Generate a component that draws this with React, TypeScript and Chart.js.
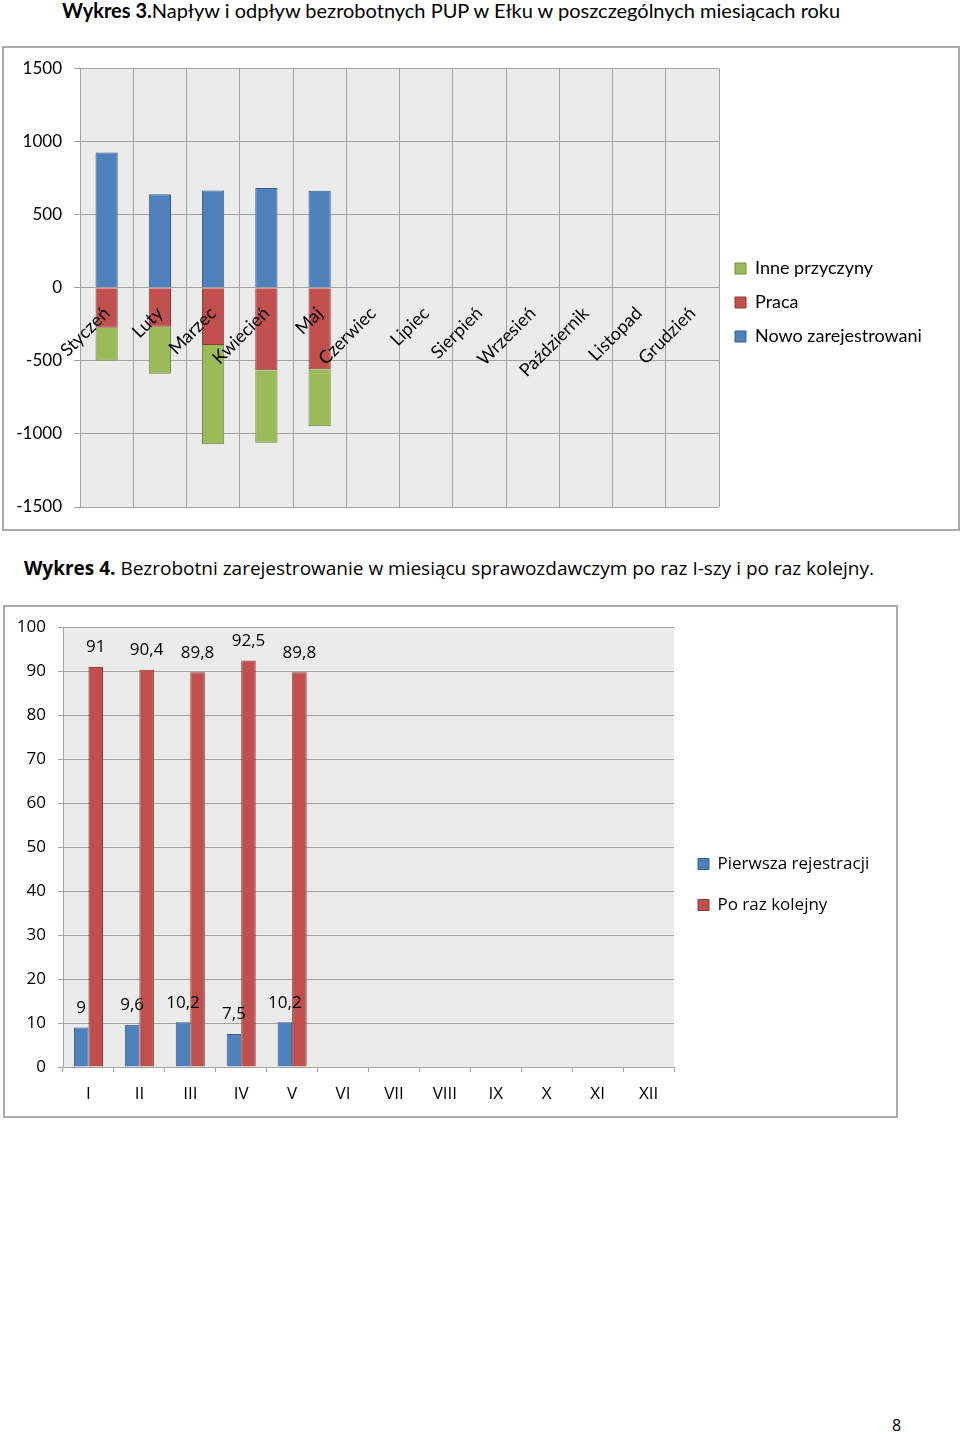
import React, { useEffect, useRef } from "react";
import { Chart, registerables } from "chart.js";

Chart.register(...registerables);

// ---------- Data: Wykres 3 ----------
const months = [
  "Styczeń", "Luty", "Marzec", "Kwiecień", "Maj", "Czerwiec",
  "Lipiec", "Sierpień", "Wrzesień", "Październik", "Listopad", "Grudzień",
];
const nowoZarejestrowani = [925, 639, 666, 682, 664, null, null, null, null, null, null, null];
const praca = [-273, -266, -391, -564, -557, null, null, null, null, null, null, null];
const innePrzyczyny = [-225, -323, -679, -497, -391, null, null, null, null, null, null, null];
const flowTicks = [-1500, -1000, -500, 0, 500, 1000, 1500];

// ---------- Data: Wykres 4 ----------
const romanMonths = ["I", "II", "III", "IV", "V", "VI", "VII", "VIII", "IX", "X", "XI", "XII"];
const pierwszaRejestracja = [9, 9.6, 10.2, 7.5, 10.2, null, null, null, null, null, null, null];
const poRazKolejny = [91, 90.4, 89.8, 92.5, 89.8, null, null, null, null, null, null, null];
const shareTicks = [0, 10, 20, 30, 40, 50, 60, 70, 80, 90, 100];

// ---------- Styles ----------
const BLUE = "#4f81bd";
const BLUE_D = "#385d8a";
const RED = "#c0504d";
const RED_D = "#8c3836";
const GREEN = "#9bbb59";
const GREEN_D = "#71893f";
const GRID = "#a3a3a3";
const PLOT_BG = "#ebebeb";
const FONT1 = "Lato, sans-serif";
const FONT2 = "'Open Sans', sans-serif";

const plotBg = {
  id: "plotBg",
  beforeDraw(chart: any) {
    const { ctx, chartArea } = chart;
    if (!chartArea) return;
    ctx.save();
    ctx.fillStyle = PLOT_BG;
    ctx.fillRect(chartArea.left, chartArea.top, chartArea.right - chartArea.left, chartArea.bottom - chartArea.top);
    ctx.restore();
  },
};

const valueLabels = {
  id: "valueLabels",
  afterDatasetsDraw(chart: any) {
    const { ctx } = chart;
    ctx.save();
    ctx.font = `17px ${FONT2}`;
    ctx.fillStyle = "#000";
    ctx.textAlign = "center";
    ctx.textBaseline = "middle";
    chart.data.datasets.forEach((ds: any, i: number) => {
      const meta = chart.getDatasetMeta(i);
      meta.data.forEach((el: any, j: number) => {
        const v = ds.data[j];
        if (v === null || v === undefined) return;
        ctx.fillText(String(v).replace(".", ","), el.x, el.y - 19.5);
      });
    });
    ctx.restore();
  },
};

function legendWidth(texts: string[], size: number, family: string, boxW: number, pad: number) {
  const c = document.createElement("canvas").getContext("2d")!;
  c.font = `${size}px ${family}`;
  const maxW = Math.max(...texts.map((t) => c.measureText(t).width));
  return pad + boxW + size / 2 + maxW + 10;
}

const C1_W = 954;
const C1_H = 481;
const C2_W = 891;
const C2_H = 509;

export default function App() {
  const ref1 = useRef<HTMLCanvasElement>(null);
  const ref2 = useRef<HTMLCanvasElement>(null);

  useEffect(() => {
    const lw1 = legendWidth(["Inne przyczyny", "Praca", "Nowo zarejestrowani"], 18, FONT1, 11, 16);
    const pr1 = Math.max(0, C1_W - 715 - lw1);
    const chart1 = new Chart(ref1.current!, {
      type: "bar",
      data: {
        labels: months,
        datasets: [
          { label: "Nowo zarejestrowani", data: nowoZarejestrowani, backgroundColor: BLUE, borderColor: BLUE_D, borderWidth: 1 },
          { label: "Praca", data: praca, backgroundColor: RED, borderColor: RED_D, borderWidth: 1 },
          { label: "Inne przyczyny", data: innePrzyczyny, backgroundColor: GREEN, borderColor: GREEN_D, borderWidth: 1 },
        ],
      },
      options: {
        responsive: false,
        animation: false,
        layout: { padding: { top: 20, bottom: 22, left: 0, right: pr1 } },
        datasets: { bar: { categoryPercentage: 1, barPercentage: 0.417 } } as any,
        scales: {
          x: {
            stacked: true,
            position: { y: 0 } as any,
            grid: { color: GRID, offset: true, drawTicks: false },
            border: { color: GRID },
            ticks: {
              z: 1,
              autoSkip: false,
              minRotation: 45,
              maxRotation: 45,
              padding: 15,
              color: "#000",
              font: { family: FONT1, size: 18 },
            },
          },
          y: {
            stacked: true,
            min: -1500,
            max: 1500,
            afterBuildTicks: (s: any) => {
              s.ticks = flowTicks.map((v) => ({ value: v }));
            },
            afterFit: (s: any) => {
              s.width = 76;
            },
            grid: { color: GRID, tickLength: 6 },
            border: { color: GRID },
            ticks: {
              padding: 12,
              color: "#000",
              font: { family: FONT1, size: 17, lineHeight: 1 },
              callback: (v: any) => String(v),
            },
          },
        },
        plugins: {
          legend: {
            position: "right",
            reverse: true,
            labels: {
              boxWidth: 11,
              boxHeight: 11,
              padding: 16,
              color: "#000",
              font: { family: FONT1, size: 18 },
            },
            title: { display: true, text: "", font: { size: 10 }, padding: { top: 0, bottom: 18 } },
          },
          tooltip: { enabled: false },
        },
      },
      plugins: [plotBg],
    });

    const lw2 = legendWidth(["Pierwsza rejestracji", "Po raz kolejny"], 17, FONT2, 11, 24);
    const pr2 = Math.max(0, C2_W - 669 - lw2);
    const chart2 = new Chart(ref2.current!, {
      type: "bar",
      data: {
        labels: romanMonths,
        datasets: [
          { label: "Pierwsza rejestracji", data: pierwszaRejestracja, backgroundColor: BLUE, borderColor: BLUE_D, borderWidth: 1 },
          { label: "Po raz kolejny", data: poRazKolejny, backgroundColor: RED, borderColor: RED_D, borderWidth: 1 },
        ],
      },
      options: {
        responsive: false,
        animation: false,
        layout: { padding: { top: 20, bottom: 0, left: 0, right: pr2 } },
        datasets: { bar: { categoryPercentage: 0.571, barPercentage: 1 } } as any,
        scales: {
          x: {
            grid: { color: GRID, offset: true, drawOnChartArea: false, tickLength: 5 },
            border: { color: GRID },
            ticks: { padding: 12, color: "#000", font: { family: FONT2, size: 17 } },
            afterFit: (s: any) => {
              s.height = 49;
            },
          },
          y: {
            min: 0,
            max: 100,
            afterBuildTicks: (s: any) => {
              s.ticks = shareTicks.map((v) => ({ value: v }));
            },
            afterFit: (s: any) => {
              s.width = 58;
            },
            grid: { color: GRID, tickLength: 5 },
            border: { color: GRID },
            ticks: {
              padding: 12,
              color: "#000",
              font: { family: FONT2, size: 17, lineHeight: 1 },
              callback: (v: any) => String(v),
            },
          },
        },
        plugins: {
          legend: {
            position: "right",
            labels: {
              boxWidth: 11,
              boxHeight: 11,
              padding: 24,
              color: "#000",
              font: { family: FONT2, size: 17 },
            },
            title: { display: true, text: "", font: { size: 10 }, padding: { top: 0, bottom: 14 } },
          },
          tooltip: { enabled: false },
        },
      },
      plugins: [plotBg, valueLabels],
    });

    return () => {
      chart1.destroy();
      chart2.destroy();
    };
  }, []);

  return (
    <div style={{ position: "absolute", left: 0, top: 0, width: 960, height: 1434, background: "#fff", overflow: "hidden", color: "#000" }}>
      <div style={{ position: "absolute", left: 62, top: -1, height: 22, lineHeight: "22px", whiteSpace: "nowrap", fontFamily: FONT1, fontSize: 20 }}>
        <b>Wykres 3.</b>Napływ i odpływ bezrobotnych PUP w Ełku w poszczególnych miesiącach roku
      </div>
      <div style={{ position: "absolute", left: 2, top: 46, width: C1_W, height: C1_H, border: "2px solid #ababab" }}>
        <canvas ref={ref1} width={C1_W} height={C1_H} style={{ display: "block" }} />
      </div>
      <div style={{ position: "absolute", left: 24, top: 556, height: 24, lineHeight: "24px", whiteSpace: "nowrap", fontFamily: FONT2, fontSize: 19 }}>
        <b>Wykres 4.</b> Bezrobotni zarejestrowanie w miesiącu sprawozdawczym po raz I-szy i po raz kolejny.
      </div>
      <div style={{ position: "absolute", left: 3, top: 605, width: C2_W, height: C2_H, border: "2px solid #ababab" }}>
        <canvas ref={ref2} width={C2_W} height={C2_H} style={{ display: "block" }} />
      </div>
      <div style={{ position: "absolute", left: 892, top: 1414, lineHeight: "22px", fontFamily: FONT2, fontSize: 16 }}>8</div>
    </div>
  );
}
